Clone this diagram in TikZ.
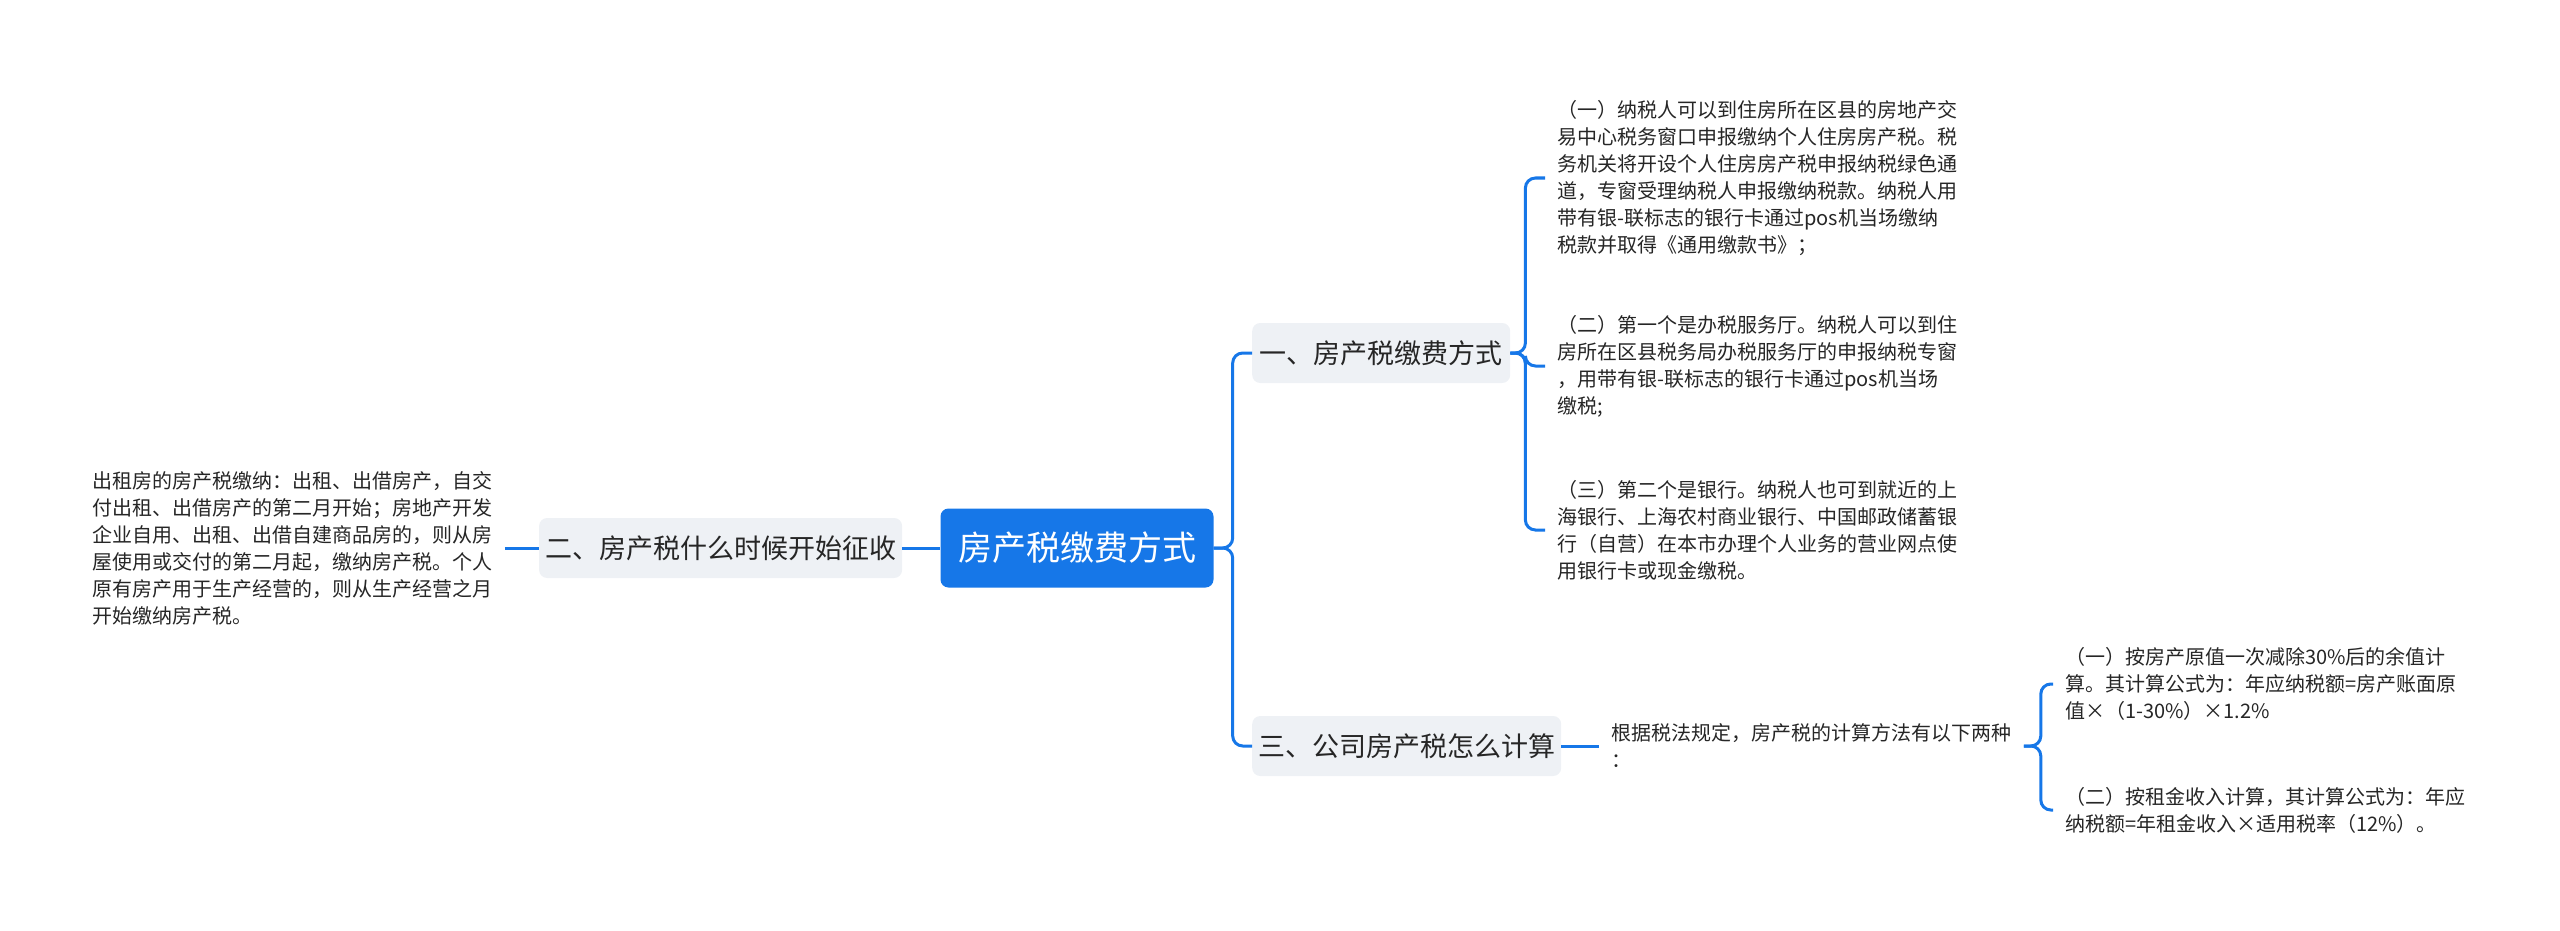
\documentclass[tikz,border=0pt]{standalone}
\usepackage{fontspec}
\setmainfont{Noto Sans CJK SC}
\usetikzlibrary{positioning}
\definecolor{mapblue}{HTML}{1677E8}
\definecolor{topicgray}{HTML}{EEF1F5}
\definecolor{inkgray}{HTML}{262626}

\begin{document}
\begin{tikzpicture}[
    x=1pt, y=-1pt,
    central/.style={rectangle, rounded corners=8pt, fill=mapblue, text=white, minimum width=273pt, minimum height=79pt, font=\fontsize{34}{40}\selectfont},
    topic/.style={rectangle, rounded corners=8pt, fill=topicgray, text=inkgray, minimum height=60pt, inner xsep=6pt, font=\fontsize{27}{32}\selectfont},
    leaf/.style={align=left, text=inkgray, inner xsep=12pt, inner ysep=0pt, font=\fontsize{20}{27}\selectfont},
    link/.style={draw=mapblue, line width=3pt, rounded corners=10pt}
]
\useasboundingbox (0,0) rectangle (2560,931);

% Central topic and left branch
\node[central] (root) at (1077,548) {房产税缴费方式};
\node[topic, minimum width=355pt, left=38pt of root] (n2) {二、房产税什么时候开始征收};
\node[leaf, left=34pt of n2] (t2l) {出租房的房产税缴纳：出租、出借房产，自交\\
付出租、出借房产的第二月开始；房地产开发\\
企业自用、出租、出借自建商品房的，则从房\\
屋使用或交付的第二月起，缴纳房产税。个人\\
原有房产用于生产经营的，则从生产经营之月\\
开始缴纳房产税。};

% Right branches
\node[topic, minimum width=258pt, anchor=west] (n1) at (1252,353) {一、房产税缴费方式};
\node[topic, minimum width=307pt, anchor=west] (n3) at (1252,746) {三、公司房产税怎么计算};

% Leaves of n1
\node[leaf, anchor=west] (a1) at (1545,178) {（一）纳税人可以到住房所在区县的房地产交\\
易中心税务窗口申报缴纳个人住房房产税。税\\
务机关将开设个人住房房产税申报纳税绿色通\\
道，专窗受理纳税人申报缴纳税款。纳税人用\\
带有银-联标志的银行卡通过pos机当场缴纳\\
税款并取得《通用缴款书》；};
\node[leaf, anchor=west] (a2) at (1545,366) {（二）第一个是办税服务厅。纳税人可以到住\\
房所在区县税务局办税服务厅的申报纳税专窗\\
，用带有银-联标志的银行卡通过pos机当场\\
缴税;};
\node[leaf, anchor=west] (a3) at (1545,530) {（三）第二个是银行。纳税人也可到就近的上\\
海银行、上海农村商业银行、中国邮政储蓄银\\
行（自营）在本市办理个人业务的营业网点使\\
用银行卡或现金缴税。};

% Leaves of n3
\node[leaf, right=38pt of n3] (c) {根据税法规定，房产税的计算方法有以下两种\\
：};
\node[leaf, anchor=west] (b1) at (2053,684) {（一）按房产原值一次减除30\%后的余值计\\
算。其计算公式为：年应纳税额=房产账面原\\
值×（1-30\%）×1.2\%};
\node[leaf, anchor=west] (b2) at (2053,810) {（二）按租金收入计算，其计算公式为：年应\\
纳税额=年租金收入×适用税率（12\%）。};

% Connectors
\draw[link] (t2l) -- (n2);
\draw[link] (n2) -- (root);
\foreach \topicname in {n1,n3}
  \draw[link] (root.east) -- ++(19,0) |- (\topicname.west);
\foreach \leafname in {a1,a2,a3}
  \draw[link] (n1.east) -- ++(15,0) |- (\leafname.west);
\draw[link] (n3) -- (c);
\foreach \leafname in {b1,b2}
  \draw[link] (c.east) -- ++(17,0) |- (\leafname.west);

\end{tikzpicture}
\end{document}
